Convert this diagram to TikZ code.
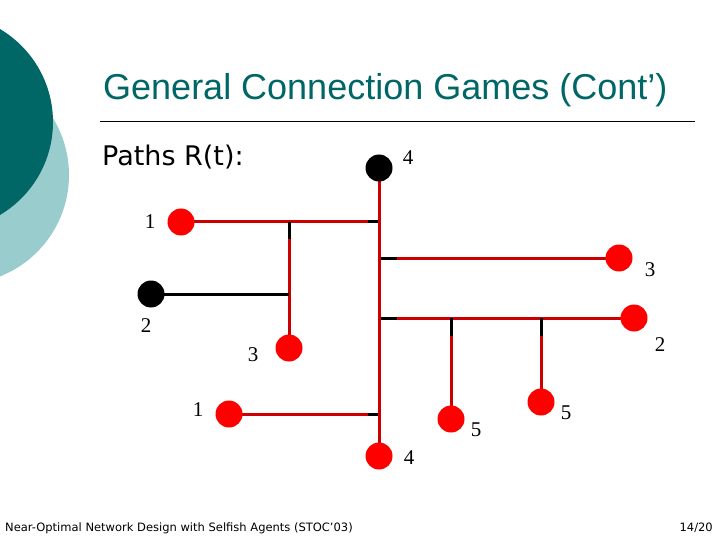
\documentclass[tikz,border=0pt]{standalone}
\usepackage{fontspec}
\setmainfont{Liberation Sans}
\newfontfamily\numfont{Liberation Serif}
\newfontfamily\vfont{DejaVu Sans}
\begin{document}
\begin{tikzpicture}[x=1pt,y=-1pt,
  red/.style={draw=red!80!black,line width=3pt},
  blk/.style={draw=black,line width=3pt},
  rdot/.style={circle,fill=red,minimum size=27pt,inner sep=0pt},
  bdot/.style={circle,fill=black,minimum size=27pt,inner sep=0pt},
  lab/.style={font=\numfont\fontsize{21}{21}\selectfont,inner sep=0pt}]
\definecolor{teal1}{HTML}{006666}
\definecolor{teal2}{HTML}{99CCCC}
\useasboundingbox (0,0) rectangle (720,540);
\fill[teal2] (-40,175) circle (109);
\fill[teal1] (-55,122) circle (108);
\node[anchor=west,text=teal1,font=\fontsize{36}{36}\selectfont,inner sep=0pt] (title) at (103,90) {General Connection Games (Cont’)};
\draw[line width=0.8pt] (100,121) -- (695,121);
\node[anchor=west,font=\vfont\fontsize{27}{27}\selectfont,inner sep=0pt] (paths) at (102,157) {Paths R(t):};
% junctions
\coordinate (j1) at (379,222); \coordinate (j1b) at (368,222);
\coordinate (j2) at (289,222); \coordinate (j2b) at (289,239);
\coordinate (j3) at (289,294);
\coordinate (j4) at (379,258); \coordinate (j4b) at (397,258);
\coordinate (j5) at (379,318); \coordinate (j5b) at (397,318);
\coordinate (j6) at (451,318); \coordinate (j6b) at (451,336);
\coordinate (j7) at (541,318); \coordinate (j7b) at (541,336);
\coordinate (j8) at (379,414); \coordinate (j8b) at (368,414);
\coordinate (pt4) at (379,168); \coordinate (pb4) at (379,456);
\coordinate (pa1) at (181,222); \coordinate (pc3) at (289,348);
\coordinate (pk2) at (151,294); \coordinate (pr3) at (619,258);
\coordinate (pr2) at (634,318); \coordinate (pf5) at (451,419);
\coordinate (pg5) at (541,402); \coordinate (pd1) at (229,414);
\draw[blk] (j1b) -- (j1);
\draw[red] (pa1) -- (j1b);
\draw[blk] (j2) -- (j2b);
\draw[red] (j2b) -- (pc3);
\draw[blk] (pk2) -- (j3);
\draw[blk] (j4) -- (j4b);
\draw[red] (j4b) -- (pr3);
\draw[blk] (j5) -- (j5b);
\draw[red] (j5b) -- (pr2);
\draw[blk] (j6) -- (j6b);
\draw[red] (j6b) -- (pf5);
\draw[blk] (j7) -- (j7b);
\draw[red] (j7b) -- (pg5);
\draw[blk] (j8b) -- (j8);
\draw[red] (pd1) -- (j8b);
\draw[red] (pt4) -- (pb4);
\node[bdot] (t4) at (pt4) {};
\node[rdot] (b4) at (pb4) {};
\node[rdot] (a1) at (pa1) {};
\node[rdot] (c3) at (pc3) {};
\node[bdot] (k2) at (pk2) {};
\node[rdot] (r3) at (pr3) {};
\node[rdot] (r2) at (pr2) {};
\node[rdot] (f5) at (pf5) {};
\node[rdot] (g5) at (pg5) {};
\node[rdot] (d1) at (pd1) {};
% labels
\node[lab] (l1) at (408,158) {4};
\node[lab] (l2) at (150,222) {1};
\node[lab] (l3) at (650,270) {3};
\node[lab] (l4) at (146,326) {2};
\node[lab] (l5) at (253,355) {3};
\node[lab] (l6) at (660,345) {2};
\node[lab] (l7) at (198,410) {1};
\node[lab] (l8) at (476,430) {5};
\node[lab] (l9) at (566,413) {5};
\node[lab] (l10) at (409,458) {4};
\node[anchor=west,font=\vfont\fontsize{11.5}{11.5}\selectfont,inner sep=0pt] (foot) at (5,528) {Near-Optimal Network Design with Selfish Agents (STOC’03)};
\node[anchor=east,font=\vfont\fontsize{11.5}{11.5}\selectfont,inner sep=0pt] (pg) at (713,528) {14/20};
\end{tikzpicture}
\end{document}
